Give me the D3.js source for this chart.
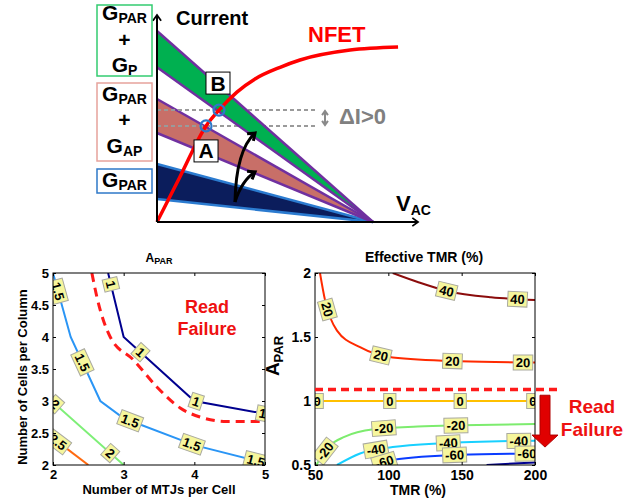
<!DOCTYPE html>
<html>
<head>
<meta charset="utf-8">
<script src="https://cdn.jsdelivr.net/npm/d3@7"></script>
<style>
  body { margin: 0; background: #fff; }
  text { font-family: "Liberation Sans", Arial, sans-serif; font-weight: bold; }
</style>
</head>
<body>
<div id="chart"></div>
<script>
// ---- top sketch: load lines against the NFET curve (normalised V, I) ----
const bandLow = [0.12, 0.466, 0.81];      // G_PAR, G_PAR+G_AP, G_PAR+G_P : current at V=0
const bandHigh = [0.304, 0.644, 1.0];
const nfetV = [0, 0.106, 0.227, 0.287, 0.37, 0.454, 0.57, 0.662, 0.894, 1.116];
const nfetI = [0, 0.236, 0.503, 0.586, 0.68, 0.749, 0.81, 0.848, 0.90, 0.916];
const readNames = ['A', 'B'];
const readV = [0.227, 0.287];
const readI = [0.503, 0.586];

// ---- bottom left: A_PAR vs MTJs per cell / cells per column ----
const mtjTicks = [2, 3, 4, 5];
const cellTicks = [2, 2.5, 3, 3.5, 4, 4.5, 5];
const aparLevels = ['1', '1.5', '2', '2.5'];
const aparLine1 = [[2.78, 5], [3, 4], [4, 3], [5, 2.8]];
const aparLine15 = [[2, 5], [2.25, 4], [2.67, 3], [3, 2.73], [4, 2.31], [5, 2.03]];
const aparLine2 = [[2, 2.98], [3, 2]];
const aparLine25 = [[2, 2.42], [2.5, 2]];
const readLimitLine = [[2.55, 5], [2.62, 4.63], [2.81, 4.0], [3.14, 3.64], [3.47, 3.22],
                       [3.8, 2.89], [4.08, 2.75], [4.46, 2.68], [5, 2.68]];

// ---- bottom right: effective TMR vs TMR / A_PAR ----
const tmrTicks = [50, 100, 150, 200];
const aparTicks = [0.5, 1, 1.5, 2];
const effLevels = ['40', '20', '0', '-20', '-40', '-60', '-80'];
const eff40 = [[103, 2], [120, 1.93], [140, 1.86], [170, 1.81], [200, 1.79]];
const eff20 = [[53.4, 2], [56.8, 1.79], [65, 1.55], [80.7, 1.42], [103, 1.34], [149, 1.31], [200, 1.3]];
const eff0 = [[50, 1], [200, 1]];
const effM20 = [[51, 0.5], [55, 0.58], [60, 0.65], [70, 0.72], [90, 0.78], [120, 0.8], [150, 0.81], [200, 0.82]];
const effM40 = [[65, 0.5], [80.7, 0.59], [103, 0.64], [137, 0.67], [200, 0.69]];
const effM60 = [[91, 0.5], [103, 0.54], [149, 0.58], [200, 0.59]];
const effM80 = [[167, 0.5], [200, 0.52]];
const readLimitApar = 1.09;

const W = 639, H = 500;
const svg = d3.select('#chart').append('svg').attr('width', W).attr('height', H);

function subText(g, x, y, main, sub, size, subSize, anchor) {
    const t = g.append('text').attr('x', x).attr('y', y)
        .attr('text-anchor', anchor || 'middle').style('font-size', size + 'px');
    t.append('tspan').text(main);
    if (sub) t.append('tspan').attr('dy', size * 0.2).style('font-size', subSize + 'px').text(sub);
    return t;
}

function chevron(g, x, y, ang, len, color, width) {
    // open arrow head pointing along ang (radians)
    const a1 = ang + Math.PI * 0.8, a2 = ang - Math.PI * 0.8;
    g.append('path')
        .attr('d', `M${x + len * Math.cos(a1)},${y + len * Math.sin(a1)}L${x},${y}L${x + len * Math.cos(a2)},${y + len * Math.sin(a2)}`)
        .attr('fill', 'none').attr('stroke', color).attr('stroke-width', width);
}

// ================= top sketch =================
const tx = d3.scaleLinear([0, 1], [157, 373]);
const ty = d3.scaleLinear([0, 1], [222, 31]);
const sketch = svg.append('g');
const tline = d3.line().x(d => tx(d[0])).y(d => ty(d[1]));
const bandFill = ['#0b1d5c', '#c86f68', '#00b050'];
const bandEdge = ['#2b7bd0', '#7030a0', '#7030a0'];

function drawBand(i) {
    sketch.append('path')
        .attr('d', tline([[0, bandLow[i]], [0, bandHigh[i]], [1, 0]]) + 'Z')
        .attr('fill', bandFill[i]);
    [bandLow[i], bandHigh[i]].forEach(v => {
        sketch.append('path').attr('d', tline([[0, v], [1, 0]]))
            .attr('fill', 'none').attr('stroke', bandEdge[i]).attr('stroke-width', 2.5);
    });
}
drawBand(0);
drawBand(1);
readI.forEach(v => {
    sketch.append('line').attr('x1', tx(0)).attr('x2', tx(0.745)).attr('y1', ty(v)).attr('y2', ty(v))
        .attr('stroke', '#9a9a9a').attr('stroke-width', 2).attr('stroke-dasharray', '4,3');
});
drawBand(2);

// NFET curve
sketch.append('path')
    .attr('d', d3.line().x(d => tx(d[0])).y(d => ty(d[1])).curve(d3.curveMonotoneX)(nfetV.map((v, i) => [v, nfetI[i]])))
    .attr('fill', 'none').attr('stroke', '#ff0000').attr('stroke-width', 3.5);

// operating points
readV.forEach((v, i) => {
    sketch.append('circle').attr('cx', tx(v)).attr('cy', ty(readI[i])).attr('r', 5.5)
        .attr('fill', 'none').attr('stroke', '#2e78c8').attr('stroke-width', 2.2);
});
const readBoxOff = [[0, 25], [-1, -27]];
readNames.forEach((n, i) => {
    const cx = tx(readV[i]) + readBoxOff[i][0], cy = ty(readI[i]) + readBoxOff[i][1];
    sketch.append('rect').attr('x', cx - 12).attr('y', cy - 11).attr('width', 24).attr('height', 22)
        .attr('fill', '#fff').attr('stroke', '#000').attr('stroke-width', 1);
    sketch.append('text').attr('x', cx).attr('y', cy + 7.5).attr('text-anchor', 'middle')
        .style('font-size', '21px').text(n);
});

// axes of the sketch
sketch.append('line').attr('x1', tx(0)).attr('x2', tx(0)).attr('y1', ty(0)).attr('y2', 15)
    .attr('stroke', '#000').attr('stroke-width', 2);
chevron(sketch, tx(0), 15, -Math.PI / 2, 7, '#000', 1.8);
sketch.append('line').attr('x1', tx(0)).attr('x2', 418).attr('y1', ty(0)).attr('y2', ty(0))
    .attr('stroke', '#000').attr('stroke-width', 2);
chevron(sketch, 418, ty(0), 0, 7, '#000', 1.8);

// curved arrows (A -> B shift)
const arrowPaths = [
    [[0.361, 0.105], [0.366, 0.377], [0.454, 0.466]],
    [[0.361, 0.105], [0.394, 0.22], [0.454, 0.262]]
];
arrowPaths.forEach(p => {
    const s = p.map(d => [tx(d[0]), ty(d[1])]);
    sketch.append('path').attr('d', `M${s[0]}Q${s[1]} ${s[2]}`)
        .attr('fill', 'none').attr('stroke', '#000').attr('stroke-width', 3);
    chevron(sketch, s[2][0], s[2][1], Math.atan2(s[2][1] - s[1][1], s[2][0] - s[1][0]), 8, '#000', 3);
});

// ΔI marker
const dIx = 325;
sketch.append('line').attr('x1', dIx).attr('x2', dIx).attr('y1', ty(readI[1]) + 1).attr('y2', ty(readI[0]) - 1)
    .attr('stroke', '#8a8a8a').attr('stroke-width', 2);
chevron(sketch, dIx, ty(readI[1]) + 1, -Math.PI / 2, 5, '#8a8a8a', 2);
chevron(sketch, dIx, ty(readI[0]) - 1, Math.PI / 2, 5, '#8a8a8a', 2);
sketch.append('text').attr('x', 339).attr('y', 124).style('font-size', '22px').attr('fill', '#808080').text('ΔI>0');

sketch.append('text').attr('x', 176).attr('y', 25).style('font-size', '20px').text('Current');
sketch.append('text').attr('x', 308).attr('y', 42).style('font-size', '22px').attr('fill', '#ff0000').text('NFET');
subText(sketch, 396, 211, 'V', 'AC', 22, 14, 'start');

// conductance legend boxes
const boxSpec = [
    { y: 169, h: 24, color: '#2e78c8', lines: [['G', 'PAR', 187]] },
    { y: 83, h: 78, color: '#e6a39c', lines: [['G', 'PAR', 101], ['+', '', 127], ['G', 'AP', 153]] },
    { y: 5, h: 71, color: '#33cc70', lines: [['G', 'PAR', 20], ['+', '', 47], ['G', 'P', 72]] }
];
boxSpec.forEach(b => {
    sketch.append('rect').attr('x', 97).attr('y', b.y).attr('width', 55).attr('height', b.h)
        .attr('fill', '#fff').attr('stroke', b.color).attr('stroke-width', 1.5);
    b.lines.forEach(l => {
        const t = subText(sketch, 124.5, l[2], l[0], l[1], 21, 14, 'middle');
        t.selectAll('tspan').filter((d, i) => i === 1).attr('dy', 3);
    });
});

// ================= contour helpers =================
function plotFrame(xs, ys, id) {
    const [x0, x1] = xs.range(), [y0, y1] = ys.range();
    svg.append('defs').append('clipPath').attr('id', id).append('rect')
        .attr('x', x0).attr('y', y1).attr('width', x1 - x0).attr('height', y0 - y1);
    svg.append('rect').attr('x', x0).attr('y', y1).attr('width', x1 - x0).attr('height', y0 - y1).attr('fill', '#fff');
    return svg.append('g').attr('clip-path', `url(#${id})`);
}

function drawContours(g, xs, ys, list) {
    const paths = list.map(c => {
        const gen = d3.line().x(d => xs(d[0])).y(d => ys(d[1])).curve(c.curve || d3.curveLinear);
        return g.append('path').attr('d', gen(c.pts)).attr('fill', 'none')
            .attr('stroke', c.color).attr('stroke-width', c.width || 2)
            .attr('stroke-dasharray', c.dash || null);
    });
    list.forEach((c, k) => {
        const node = paths[k].node(), L = node.getTotalLength();
        (c.at || []).forEach(f => {
            const s = f * L;
            const a = node.getPointAtLength(Math.max(0, s - 4));
            const b = node.getPointAtLength(Math.min(L, s + 4));
            const m = node.getPointAtLength(s);
            let ang = Math.atan2(b.y - a.y, b.x - a.x) * 180 / Math.PI;
            if (ang > 90) ang -= 180;
            if (ang < -90) ang += 180;
            const lg = g.append('g').attr('transform', `translate(${m.x},${m.y}) rotate(${ang})`);
            const r = lg.append('rect');
            const t = lg.append('text').attr('text-anchor', 'middle').attr('dy', '0.36em')
                .style('font-size', '13px').text(c.label);
            const w = t.node().getComputedTextLength() + 5;
            r.attr('x', -w / 2).attr('y', -7.5).attr('width', w).attr('height', 15)
                .attr('fill', '#f6f69c').attr('stroke', '#a9a9a0').attr('stroke-width', 1);
        });
    });
}

function drawAxes(xs, ys, xt, yt, fs) {
    const [x0, x1] = xs.range(), [y0, y1] = ys.range();
    const styleAxis = g => {
        g.select('.domain').remove();
        g.selectAll('line').attr('stroke', '#000');
        g.selectAll('text').style('font-size', fs + 'px').style('font-family', '"Liberation Sans", Arial, sans-serif')
            .style('font-weight', 'bold').attr('fill', '#000');
    };
    svg.append('g').attr('transform', `translate(0,${y0})`)
        .call(d3.axisBottom(xs).tickValues(xt).tickSizeInner(-3).tickSizeOuter(0).tickPadding(5).tickFormat(d3.format('')))
        .call(styleAxis);
    svg.append('g').attr('transform', `translate(${x0},0)`)
        .call(d3.axisLeft(ys).tickValues(yt).tickSizeInner(-3).tickSizeOuter(0).tickPadding(4).tickFormat(d3.format('')))
        .call(styleAxis);
    svg.append('g').attr('transform', `translate(0,${y1})`)
        .call(d3.axisTop(xs).tickValues(xt).tickSizeInner(-3).tickSizeOuter(0).tickFormat(''))
        .call(styleAxis);
    svg.append('g').attr('transform', `translate(${x1},0)`)
        .call(d3.axisRight(ys).tickValues(yt).tickSizeInner(-3).tickSizeOuter(0).tickFormat(''))
        .call(styleAxis);
    svg.append('rect').attr('x', x0).attr('y', y1).attr('width', x1 - x0).attr('height', y0 - y1)
        .attr('fill', 'none').attr('stroke', '#000').attr('stroke-width', 1);
}

// ================= bottom left =================
const xL = d3.scaleLinear([2, 5], [53, 265]);
const yL = d3.scaleLinear([2, 5], [465, 273]);
const gL = plotFrame(xL, yL, 'clipL');
svg.append('text').attr('x', 207).attr('y', 313).attr('text-anchor', 'middle')
    .style('font-size', '18px').attr('fill', '#ee1111').text('Read');
svg.append('text').attr('x', 207).attr('y', 335).attr('text-anchor', 'middle')
    .style('font-size', '18px').attr('fill', '#ee1111').text('Failure');
const gL2 = svg.append('g').attr('clip-path', 'url(#clipL)');
drawContours(gL2, xL, yL, [
    { pts: readLimitLine, color: '#ff1a1a', width: 3, dash: '9,6', curve: d3.curveMonotoneX },
    { pts: aparLine1, label: aparLevels[0], color: '#00008f', at: [0.05, 0.38, 0.70, 0.99] },
    { pts: aparLine15, label: aparLevels[1], color: '#2a95f5', at: [0.06, 0.30, 0.55, 0.76, 0.97] },
    { pts: aparLine2, label: aparLevels[2], color: '#7eef77', at: [0.03, 0.81] },
    { pts: aparLine25, label: aparLevels[3], color: '#ff6a10', at: [0.14] }
]);
drawAxes(xL, yL, mtjTicks, cellTicks, 13);
subText(svg, 159, 262, 'A', 'PAR', 12, 9, 'middle');
svg.append('text').attr('x', 159).attr('y', 494).attr('text-anchor', 'middle')
    .style('font-size', '13px').text('Number of MTJs per Cell');
svg.append('text').attr('transform', 'translate(27,377) rotate(-90)').attr('text-anchor', 'middle')
    .style('font-size', '13px').text('Number of Cells per Column');

// ================= bottom right =================
const xR = d3.scaleLinear([50, 200], [315, 535]);
const yR = d3.scaleLinear([0.5, 2], [465, 273]);
const gR = plotFrame(xR, yR, 'clipR');
const mono = d3.curveMonotoneX;
drawContours(gR, xR, yR, [
    { pts: eff40, label: effLevels[0], color: '#8b0c0c', curve: mono, at: [0.39, 0.88] },
    { pts: eff20, label: effLevels[1], color: '#ff2a00', curve: mono, at: [0.14, 0.42, 0.69, 0.955] },
    { pts: eff0, label: effLevels[2], color: '#ffc000', at: [0.01, 0.34, 0.66, 0.99] },
    { pts: effM20, label: effLevels[3], color: '#7dec6e', curve: mono, at: [0.07, 0.35, 0.66] },
    { pts: effM40, label: effLevels[4], color: '#18d0ff', curve: mono, at: [0.21, 0.57, 0.92] },
    { pts: effM60, label: effLevels[5], color: '#0a3cff', curve: mono, at: [0.06, 0.5, 0.95] },
    { pts: effM80, label: effLevels[6], color: '#00008f', curve: mono, at: [] }
]);
drawAxes(xR, yR, tmrTicks, aparTicks, 14);

// read-failure threshold and arrow
svg.append('line').attr('x1', xR(50)).attr('x2', xR(200) + 22)
    .attr('y1', yR(readLimitApar)).attr('y2', yR(readLimitApar))
    .attr('stroke', '#ff1a1a').attr('stroke-width', 3.5).attr('stroke-dasharray', '8,5');
const ax = xR(200) + 10, aTop = yR(1.045), aNeck = yR(0.734), aTip = yR(0.64);
svg.append('path')
    .attr('d', `M${ax - 5},${aTop}L${ax + 5},${aTop}L${ax + 5},${aNeck}L${ax + 13},${aNeck}L${ax},${aTip}L${ax - 13},${aNeck}L${ax - 5},${aNeck}Z`)
    .attr('fill', '#e00000').attr('stroke', '#b00000').attr('stroke-width', 1);
svg.append('text').attr('x', 592).attr('y', 413).attr('text-anchor', 'middle')
    .style('font-size', '19px').attr('fill', '#ee1111').text('Read');
svg.append('text').attr('x', 592).attr('y', 436).attr('text-anchor', 'middle')
    .style('font-size', '19px').attr('fill', '#ee1111').text('Failure');

svg.append('text').attr('x', 424).attr('y', 262).attr('text-anchor', 'middle')
    .style('font-size', '14px').text('Effective TMR (%)');
svg.append('text').attr('x', 418).attr('y', 495).attr('text-anchor', 'middle')
    .style('font-size', '14px').text('TMR (%)');
const yl = svg.append('g').attr('transform', 'translate(279,356) rotate(-90)');
subText(yl, 0, 0, 'A', 'PAR', 19, 13, 'middle');
</script>
</body>
</html>
